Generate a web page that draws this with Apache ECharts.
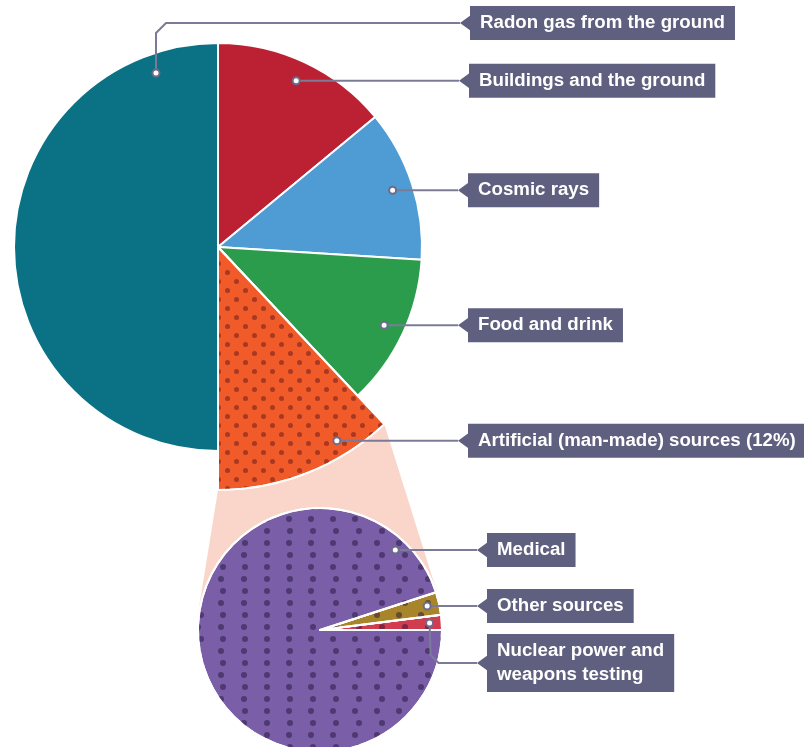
<!DOCTYPE html>
<html>
<head>
<meta charset="utf-8">
<script src="https://cdn.jsdelivr.net/npm/echarts@6/dist/echarts.min.js"></script>
<style>
  html, body { margin: 0; padding: 0; background: #ffffff; }
  #chart { width: 804px; height: 747px; }
</style>
</head>
<body>
<div id="chart"></div>
<script>
// Sources of background radiation, percent of the average yearly dose
const mainCategories = ['Buildings and the ground', 'Cosmic rays', 'Food and drink', 'Artificial (man-made) sources', 'Radon gas from the ground'];
const mainShares = [14, 12, 12, 12, 50];

// How the artificial share breaks down
const artificialCategories = ['Nuclear power and\nweapons testing', 'Other sources', 'Medical'];
const artificialShares = [2, 3, 95];

const ARTIFICIAL = 3;

const mainColors = ['#bb2132', '#4f9bd4', '#2b9c4b', '#f15a29', '#0b7285'];
const subColors = ['#d13c4f', '#a8842a', '#7a5fa8'];

// Pie geometry
const MAIN = { cx: 218, cy: 247, r: 204 };
const EXPLODED_R = 243;
const SUB = { cx: 320, cy: 630, r: 122 };

const FONT = 'bold 18.7px "Liberation Sans", Arial, Helvetica, sans-serif';
const BOX_COLOR = '#5f5f7f';
const LINE_COLOR = '#7b7b98';

// Slice angles (degrees, counter-clockwise from east), same rules the pie series uses
function sliceAngles(values, startAngle, clockwise) {
  const total = values.reduce((a, b) => a + b, 0);
  let a = startAngle;
  const dir = clockwise ? -1 : 1;
  return values.map(v => {
    const span = v / total * 360;
    const seg = [a, a + dir * span];
    a += dir * span;
    return seg;
  });
}
function polar(c, r, deg) {
  const rad = deg * Math.PI / 180;
  return [c.cx + r * Math.cos(rad), c.cy - r * Math.sin(rad)];
}
const mainAngles = sliceAngles(mainShares, 90, true);
const subAngles = sliceAngles(artificialShares, 0, false);

// Dot decals
const orangeDecal = {
  symbol: 'circle', symbolSize: 1, color: 'rgba(110,30,28,0.55)',
  dashArrayX: [[5, 12.6], [0, 8.8, 5, 3.8]], dashArrayY: [5, 3.8]
};
const purpleDecal = {
  symbol: 'circle', symbolSize: 1, color: 'rgba(36,20,58,0.5)',
  dashArrayX: [[5.4, 15.8], [0, 10.6, 5.4, 5.2]], dashArrayY: [5.4, 5.2]
};

// Connector between the exploded slice and the breakdown pie
function tangent(p, c, r, pickLeft) {
  const dx = p[0] - c.cx, dy = p[1] - c.cy;
  const d = Math.hypot(dx, dy);
  const base = Math.atan2(dy, dx);
  const alpha = Math.acos(r / d);
  const t1 = [c.cx + r * Math.cos(base + alpha), c.cy + r * Math.sin(base + alpha)];
  const t2 = [c.cx + r * Math.cos(base - alpha), c.cy + r * Math.sin(base - alpha)];
  if (pickLeft) return t1[0] < t2[0] ? t1 : t2;
  return t1[0] > t2[0] ? t1 : t2;
}
const artA = mainAngles[ARTIFICIAL];
const pEnd = polar(MAIN, EXPLODED_R, artA[1]);
const pStart = polar(MAIN, EXPLODED_R, artA[0]);
const tLeft = tangent(pEnd, SUB, SUB.r + 1, true);
const tRight = tangent(pStart, SUB, SUB.r + 1, false);

// Callout anchors: slice, position along the slice, radial fraction, box placement
const callouts = [
  { pie: 'main', idx: 4, t: 0.891, rf: 0.905, boxX: 470, boxY: 23, route: 'up' },
  { pie: 'main', idx: 0, t: 0.5, rf: 0.9, boxX: 469 },
  { pie: 'main', idx: 1, t: 0.5, rf: 0.9, boxX: 468 },
  { pie: 'main', idx: 2, t: 0.5, rf: 0.9, boxX: 468 },
  { pie: 'main', idx: 3, t: 0.27, rf: 0.935, boxX: 468, exploded: true },
  { pie: 'sub', idx: 2, t: 0.084, rf: 0.9, boxX: 487 },
  { pie: 'sub', idx: 1, t: 0.5, rf: 0.9, boxX: 487 },
  { pie: 'sub', idx: 0, t: 0.5, rf: 0.9, boxX: 487, boxY: 663, route: 'down' }
];

const graphics = [];
graphics.push({
  type: 'polygon', z: 1, silent: true,
  shape: { points: [pEnd, pStart, tRight, tLeft] },
  style: { fill: '#f9d6c9' }
});

callouts.forEach(c => {
  const isMain = c.pie === 'main';
  const geo = isMain ? MAIN : SUB;
  const seg = (isMain ? mainAngles : subAngles)[c.idx];
  const r = (c.exploded ? EXPLODED_R : geo.r) * c.rf;
  const ang = seg[0] + (seg[1] - seg[0]) * c.t;
  const dot = polar(geo, r, ang);
  const by = c.boxY !== undefined ? c.boxY : dot[1];
  const tip = c.boxX - 10;
  let pts;
  if (c.route === 'up') {
    pts = [dot, [dot[0], by + 10], [dot[0] + 10, by], [tip, by]];
  } else if (c.route === 'down') {
    pts = [dot, [dot[0] + 1, by - 8], [dot[0] + 9, by], [tip, by]];
  } else {
    pts = [dot, [tip, by]];
  }
  const name = isMain ? mainCategories[c.idx] : artificialCategories[c.idx];
  const value = isMain ? mainShares[c.idx] : artificialShares[c.idx];
  const text = (isMain && c.idx === ARTIFICIAL) ? name + ' (' + value + '%)' : name;

  graphics.push({
    type: 'polyline', z: 20, silent: true,
    shape: { points: pts },
    style: { stroke: LINE_COLOR, lineWidth: 2, fill: null }
  });
  graphics.push({
    type: 'circle', z: 21, silent: true,
    shape: { cx: dot[0], cy: dot[1], r: 3.5 },
    style: { fill: '#ffffff', stroke: '#6c6c8a', lineWidth: 2 }
  });
  graphics.push({
    type: 'polygon', z: 20, silent: true,
    shape: { points: [[c.boxX + 1, by - 8], [tip, by], [c.boxX + 1, by + 8]] },
    style: { fill: BOX_COLOR }
  });
  graphics.push({
    type: 'text', z: 21, silent: true,
    x: c.boxX, y: by,
    style: {
      text: text, fill: '#ffffff', font: FONT,
      backgroundColor: BOX_COLOR, padding: [5, 10, 5, 10], lineHeight: 24,
      align: 'left', verticalAlign: 'middle'
    }
  });
});

const hidden = { color: 'rgba(0,0,0,0)', borderWidth: 0 };

const chart = echarts.init(document.getElementById('chart'), null, { renderer: 'canvas' });
chart.setOption({
  animation: false,
  backgroundColor: '#ffffff',
  series: [
    {
      type: 'pie', z: 3, silent: true,
      center: [MAIN.cx, MAIN.cy], radius: MAIN.r,
      startAngle: 90, clockwise: true,
      label: { show: false }, labelLine: { show: false },
      emphasis: { disabled: true },
      itemStyle: { borderColor: '#ffffff', borderWidth: 2 },
      data: mainCategories.map((n, i) => ({
        name: n, value: mainShares[i],
        itemStyle: i === ARTIFICIAL ? hidden : { color: mainColors[i] }
      }))
    },
    {
      type: 'pie', z: 4, silent: true,
      center: [MAIN.cx, MAIN.cy], radius: EXPLODED_R,
      startAngle: 90, clockwise: true,
      label: { show: false }, labelLine: { show: false },
      emphasis: { disabled: true },
      data: mainCategories.map((n, i) => ({
        name: n, value: mainShares[i],
        itemStyle: i === ARTIFICIAL
          ? { color: mainColors[i], borderColor: '#ffffff', borderWidth: 2, decal: orangeDecal }
          : hidden
      }))
    },
    {
      type: 'pie', z: 5, silent: true,
      center: [SUB.cx, SUB.cy], radius: SUB.r,
      startAngle: 0, clockwise: false,
      label: { show: false }, labelLine: { show: false },
      emphasis: { disabled: true },
      itemStyle: { borderColor: '#ffffff', borderWidth: 2 },
      data: artificialCategories.map((n, i) => ({
        name: n, value: artificialShares[i],
        itemStyle: { color: subColors[i], decal: purpleDecal }
      }))
    }
  ],
  graphic: { elements: graphics }
});
</script>
</body>
</html>
